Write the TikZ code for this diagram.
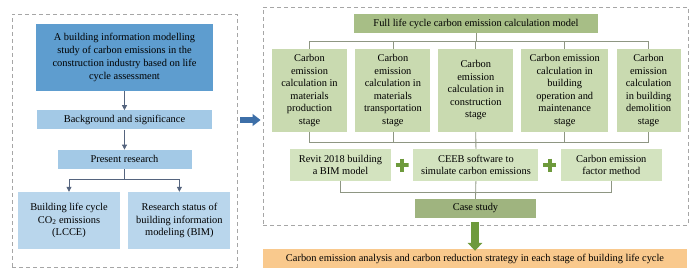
\documentclass[tikz,border=0pt]{standalone}
\usepackage{fontspec}
\setmainfont{Liberation Serif}
\usepackage{xcolor}
\usetikzlibrary{arrows.meta,positioning,calc}
\definecolor{deepblue}{HTML}{5E9DCF}
\definecolor{paleblue}{HTML}{A3C9E6}
\definecolor{lightblue}{HTML}{B9D6EC}
\definecolor{stagegreen}{HTML}{C9DAB0}
\definecolor{palegreen}{HTML}{D3E3BF}
\definecolor{olivegreen}{HTML}{A7BE86}
\definecolor{plusgreen}{HTML}{6E9A3C}
\definecolor{resultorange}{HTML}{F9C98D}
\definecolor{arrowblue}{HTML}{3D6FA8}
\definecolor{slate}{HTML}{55647E}
\definecolor{linegray}{HTML}{8E9683}

\begin{document}
\begin{tikzpicture}[x=1pt, y=-1pt,
    frame_box/.style={rectangle, draw=black!35, dash pattern=on 4pt off 3pt, line width=0.8pt, inner sep=0pt},
    blue_box/.style={rectangle, fill=paleblue, inner sep=0pt, align=center, font=\fontsize{10.4}{12.7}\selectfont},
    stage_box/.style={rectangle, fill=stagegreen, inner sep=0pt, align=center, minimum height=83pt, font=\fontsize{10.4}{12.5}\selectfont},
    tool_box/.style={rectangle, fill=palegreen, inner sep=0pt, align=center, minimum height=32pt, font=\fontsize{10.4}{12.5}\selectfont},
    head_box/.style={rectangle, fill=olivegreen, inner sep=0pt, align=center, minimum height=19pt, font=\fontsize{10.4}{12}\selectfont},
    plus_sign/.style={rectangle, minimum size=13pt, inner sep=0pt, path picture={
        \draw[plusgreen, line width=4pt] (path picture bounding box.north) -- (path picture bounding box.south)
            (path picture bounding box.west) -- (path picture bounding box.east);}},
    blue_link/.style={draw=slate, line width=0.8pt},
    blue_arrow/.style={blue_link, -{Triangle[width=5pt,length=5pt]}},
    green_link/.style={draw=linegray, line width=0.8pt},
    big_arrow/.style={line width=#1, -{Triangle[width=1.8*#1,length=8pt]}}
]
    \useasboundingbox (0,0) rectangle (700,279);

    % dashed frames
    \node[frame_box, minimum width=225pt, minimum height=253pt] (leftframe) at (124.5,140.5) {};
    \node[frame_box, minimum width=425pt, minimum height=218pt] (rightframe) at (475.5,116) {};

    % left column
    \node[blue_box, fill=deepblue, minimum width=177pt, minimum height=67pt] (topic) at (124.5,57.5)
        {A building information modelling\\study of carbon emissions in the\\construction industry based on life\\cycle assessment};
    \node[blue_box, minimum width=175pt, minimum height=19pt, below=19pt of topic] (backg) {Background and significance};
    \node[blue_box, minimum width=134pt, minimum height=19pt, below=20pt of backg] (present) {Present research};
    \node[blue_box, fill=lightblue, minimum width=102pt, minimum height=57pt] (lcce) at (69,220.5)
        {Building life cycle\\CO\textsubscript{2} emissions\\(LCCE)};
    \node[blue_box, fill=lightblue, minimum width=102pt, minimum height=57pt, right=8pt of lcce] (bimstat)
        {Research status of\\building information\\modeling (BIM)};

    \draw[blue_arrow] (topic) -- (backg);
    \draw[blue_arrow] (backg) -- (present);
    \draw[blue_link] (present.south) -- ++(0,10) coordinate (fork);
    \draw[blue_arrow] (fork) -| (lcce.north);
    \draw[blue_arrow] (fork) -| (bimstat.north);

    % arrow between frames
    \draw[big_arrow=6.5pt, arrowblue] ([xshift=3pt,yshift=20.5pt]leftframe.east) -- ([xshift=-2pt,yshift=-4pt]rightframe.west);

    % right column
    \node[head_box, minimum width=244pt] (model) at (476,23.5) {Full life cycle carbon emission calculation model};
    \node[stage_box, minimum width=75pt] (stage1) at (309.5,90.5)
        {Carbon\\emission\\calculation in\\materials\\production\\stage};
    \node[stage_box, minimum width=75pt, right=8pt of stage1] (stage2)
        {Carbon\\emission\\calculation in\\materials\\transportation\\stage};
    \node[stage_box, minimum width=75pt, right=7.5pt of stage2] (stage3)
        {Carbon\\emission\\calculation in\\construction\\stage};
    \node[stage_box, minimum width=87pt, right=7.5pt of stage3] (stage4)
        {Carbon emission\\calculation in\\building\\operation and\\maintenance\\stage};
    \node[stage_box, minimum width=64pt, right=8pt of stage4] (stage5)
        {Carbon\\emission\\calculation\\in building\\demolition\\stage};

    \node[tool_box, minimum width=101pt] (revit) at (340.5,165) {Revit 2018 building\\a BIM model};
    \node[tool_box, minimum width=125pt, right=22pt of revit] (ceeb) {CEEB software to\\simulate carbon emissions};
    \node[tool_box, minimum width=101pt, right=22pt of ceeb] (factor) {Carbon emission\\factor method};
    \node[plus_sign] (plus1) at ($(revit.east)!0.5!(ceeb.west)$) {};
    \node[plus_sign] (plus2) at ($(ceeb.east)!0.5!(factor.west)$) {};
    \node[head_box, fill=olivegreen!95!black, minimum width=121pt] (casestudy) at (475.5,208.5) {Case study};

    \node[head_box, fill=resultorange, minimum width=424pt] (result) at (475,258.5)
        {Carbon emission analysis and carbon reduction strategy in each stage of building life cycle};

    % connectors
    \draw[green_link] (model.south) -- ++(0,8) coordinate (topbar);
    \draw[green_link] (stage1.north) |- (topbar) -| (stage5.north);
    \foreach \s in {stage2,stage3,stage4}
        \draw[green_link] (\s.north) -- (\s.north |- topbar);
    \draw[green_link] (stage1.south) -- ++(0,10) coordinate (lowbar) -| (stage5.south);
    \foreach \s in {stage2,stage4}
        \draw[green_link] (\s.south) -- (\s.south |- lowbar);
    \draw[green_link] (stage3.south) -- (ceeb.north);
    \draw[green_link] (revit.south) -- ++(0,11) coordinate (casebar) -| (factor.south);
    \draw[green_link] (ceeb.south) -- (casestudy.north);

    \draw[big_arrow=8pt, plusgreen] ([yshift=3pt]rightframe.south -| result.north) -- ([yshift=-2pt]result.north);
\end{tikzpicture}
\end{document}
